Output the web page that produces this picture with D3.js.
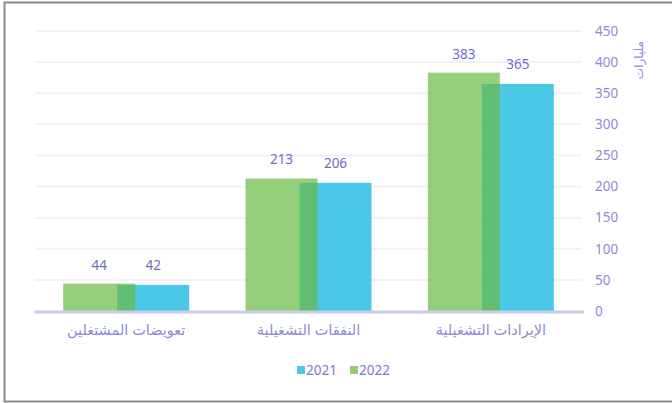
<!DOCTYPE html>
<html>
<head>
<meta charset="utf-8">
<script src="https://cdnjs.cloudflare.com/ajax/libs/d3/7.8.5/d3.min.js"></script>
<style>
  body { margin: 0; background: #fff; }
  svg text { font-family: "Noto Sans", "DejaVu Sans", sans-serif; }
</style>
</head>
<body>
<div id="chart"></div>
<script>
var categories = ["الإيرادات التشغيلية", "النفقات التشغيلية", "تعويضات المشتغلين"];
var values2022 = [383, 213, 44];
var values2021 = [365, 206, 42];
var yTicks = [0, 50, 100, 150, 200, 250, 300, 350, 400, 450];
var yTitle = "مليارات";

var W = 672, H = 403;
var margin = { top: 31, right: 90, bottom: 92, left: 35 },
    w = W - margin.left - margin.right,
    h = H - margin.top - margin.bottom;

var svg = d3.select("#chart").append("svg")
    .attr("width", W)
    .attr("height", H);

// outer frame
svg.append("rect")
    .attr("x", 4.5).attr("y", 2.5)
    .attr("width", 700).attr("height", 399)
    .attr("fill", "none")
    .attr("stroke", "#8a8a8a")
    .attr("stroke-width", 2);

var g = svg.append("g")
    .attr("transform", "translate(" + margin.left + "," + margin.top + ")");

// categories run right to left
var x = d3.scaleBand()
    .domain(categories)
    .range([w, 0]);

var y = d3.scaleLinear()
    .domain([0, 450])
    .range([h, 0]);

// grid
g.selectAll("line.grid")
    .data(yTicks.slice(1))
    .enter().append("line")
    .attr("class", "grid")
    .attr("x1", 0).attr("x2", w)
    .attr("y1", function(d) { return y(d); })
    .attr("y2", function(d) { return y(d); })
    .attr("stroke", "#f1f1f8")
    .attr("stroke-width", 2);

// y axis on the right
var yAxis = g.append("g")
    .attr("transform", "translate(" + w + ",0)")
    .call(d3.axisRight(y).tickValues(yTicks).tickSize(0).tickPadding(13));
yAxis.select(".domain").remove();
yAxis.selectAll("text")
    .attr("fill", "#8c8cd2")
    .style("font-size", "13.5px");

g.append("text")
    .attr("transform", "translate(" + (w + 61) + "," + (y(400) - 2) + ") rotate(-90)")
    .attr("text-anchor", "middle")
    .attr("fill", "#8c8cd2")
    .style("font-size", "12px")
    .text(yTitle);

var barW = 72, offset = 27;

var groups = g.selectAll("g.cat")
    .data(categories)
    .enter().append("g")
    .attr("class", "cat")
    .attr("transform", function(d) {
        return "translate(" + (x(d) + x.bandwidth() / 2) + ",0)";
    });

// 2021 (blue) behind
groups.append("rect")
    .attr("x", offset - barW / 2)
    .attr("width", barW)
    .attr("y", function(d, i) { return y(values2021[i]); })
    .attr("height", function(d, i) { return h - y(values2021[i]); })
    .attr("fill", "#4bc8e7");

// 2022 (green) in front, translucent
groups.append("rect")
    .attr("x", -offset - barW / 2)
    .attr("width", barW)
    .attr("y", function(d, i) { return y(values2022[i]); })
    .attr("height", function(d, i) { return h - y(values2022[i]); })
    .attr("fill", "#6aba43")
    .attr("fill-opacity", 0.7);

groups.append("text")
    .attr("x", -offset)
    .attr("y", function(d, i) { return y(values2022[i]) - 14; })
    .attr("text-anchor", "middle")
    .attr("fill", "#6e6ec4")
    .style("font-size", "13.5px")
    .text(function(d, i) { return values2022[i]; });

groups.append("text")
    .attr("x", offset)
    .attr("y", function(d, i) { return y(values2021[i]) - 15; })
    .attr("text-anchor", "middle")
    .attr("fill", "#6e6ec4")
    .style("font-size", "13.5px")
    .text(function(d, i) { return values2021[i]; });

// baseline
g.append("line")
    .attr("x1", -1).attr("x2", w + 2)
    .attr("y1", h + 1).attr("y2", h + 1)
    .attr("stroke", "#cdcde8")
    .attr("stroke-width", 3);

// category labels
groups.append("text")
    .attr("y", h + 24)
    .attr("text-anchor", "middle")
    .attr("fill", "#8c8cd2")
    .style("font-size", "14.5px")
    .text(function(d) { return d; });

// legend
var legend = svg.append("g")
    .attr("transform", "translate(297,370)");
var legendItems = [
    { label: "2021", color: "#4bc8e7", x: 0 },
    { label: "2022", color: "#93cd78", x: 53 }
];
legend.selectAll("rect")
    .data(legendItems)
    .enter().append("rect")
    .attr("x", function(d) { return d.x; })
    .attr("y", -4)
    .attr("width", 8).attr("height", 8)
    .attr("fill", function(d) { return d.color; });
legend.selectAll("text")
    .data(legendItems)
    .enter().append("text")
    .attr("x", function(d) { return d.x + 9; })
    .attr("y", 5)
    .attr("fill", "#7b7bc8")
    .style("font-size", "13.5px")
    .text(function(d) { return d.label; });
</script>
</body>
</html>
